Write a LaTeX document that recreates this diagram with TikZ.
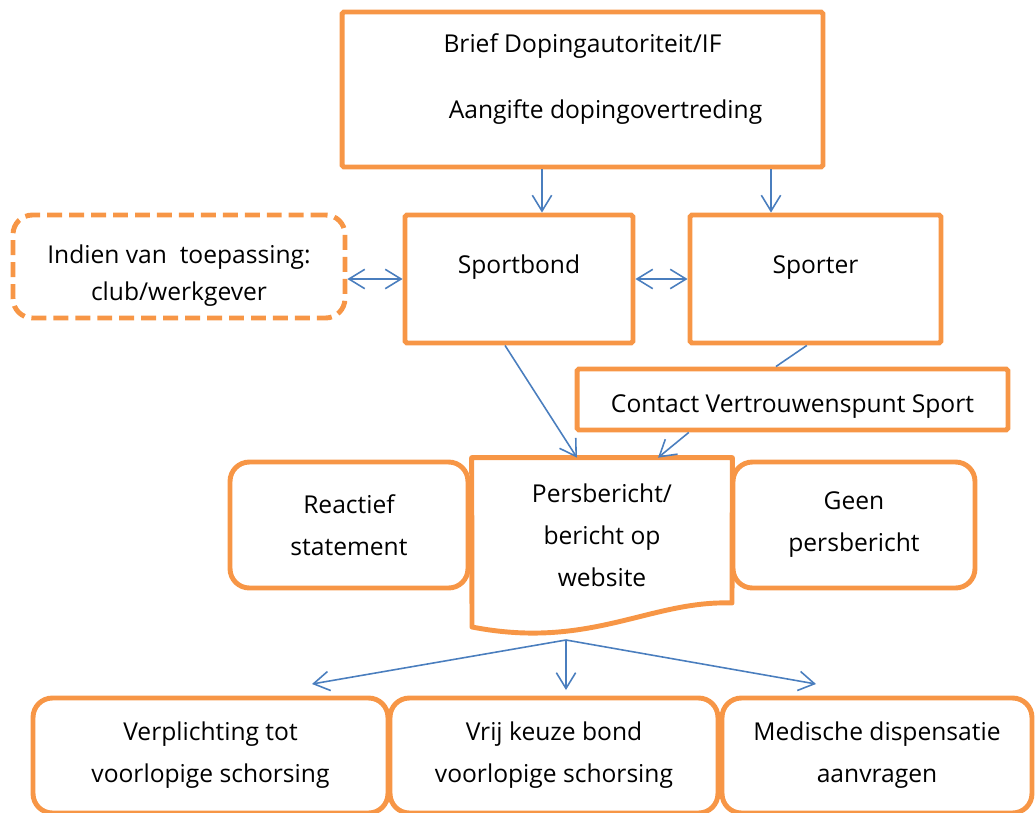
\documentclass[tikz,border=0pt]{standalone}
\usepackage{fontspec}
\setmainfont{Open Sans}
\usepackage{xcolor}
\usepackage{tikz}
\usetikzlibrary{arrows.meta,calc}
\definecolor{figbox}{RGB}{247,150,70}
\definecolor{figlink}{RGB}{74,126,190}
\tikzset{
  txt/.style  ={font=\fontsize{14}{23.9}\selectfont, inner sep=0pt, align=center},
  box/.style  ={txt, draw=figbox, line width=2.8pt, rounded corners=1pt},
  rbox/.style ={box, rounded corners=11pt},
  dbox/.style ={rbox, dash pattern=on 8.5pt off 4pt},
  doc/.style  ={draw=figbox, line width=2.8pt, line join=round},
  lnk/.style  ={draw=figlink, line width=0.9pt, -{Straight Barb[length=9pt,width=11pt]}},
  dlnk/.style ={lnk, {Straight Barb[length=9pt,width=11pt]}-{Straight Barb[length=9pt,width=11pt]}},
  pln/.style  ={draw=figlink, line width=0.9pt},
}
\begin{document}
\begin{tikzpicture}[x=0.02cm,y=-0.02cm]
  \useasboundingbox (0,0) rectangle (1035,812);
  \clip (0,0) rectangle (1035,812);
  % top row
  \node[box, minimum width=9.62cm, minimum height=3.1cm] (brief) at (582.5,89.5) {};
  \node[txt, anchor=base] (brieftop) at (582.5,52) {Brief Dopingautoriteit/IF};
  \node[txt, anchor=base] (briefbot) at (605.5,118) {Aangifte dopingovertreding};
  % second row
  \node[dbox, minimum width=6.64cm, minimum height=2.06cm] (club) at (179,266.5) {};
  \node[txt] (clubtxt) at (179,276) {Indien van\ \ toepassing:\\[-2.8pt]club/werkgever};
  \node[box, minimum width=4.56cm, minimum height=2.56cm] (bond) at (519,279) {};
  \node[txt, anchor=base] (bondtxt) at (519,273) {Sportbond};
  \node[box, minimum width=5.02cm, minimum height=2.56cm] (sporter) at (815.5,279) {};
  \node[txt, anchor=base] (sportertxt) at (815.5,273) {Sporter};
  \node[box, minimum width=8.62cm, minimum height=1.22cm] (contact) at (792.5,399.5) {};
  \node[txt, anchor=base] (contacttxt) at (792.5,412) {Contact Vertrouwenspunt Sport};
  % press row
  \node[txt, minimum width=5.2cm, minimum height=3.08cm] (pers) at (602,535) {Persbericht/\\bericht op\\website};
  \draw[doc] (pers.north west) -- (pers.north east) -- (732,603)
    .. controls (650,600) and (590,650) .. (472,627) -- cycle;
  \node[rbox, minimum width=4.76cm, minimum height=2.52cm] (reactief) at (349,525) {Reactief\\statement};
  \node[rbox, minimum width=4.84cm, minimum height=2.52cm] (geen) at (854,525) {Geen\\persbericht};
  % bottom row
  \node[rbox, minimum width=7.1cm, minimum height=2.3cm] (plicht) at (210.5,755.5) {Verplichting tot\\voorlopige schorsing};
  \node[rbox, minimum width=6.56cm, minimum height=2.3cm] (vrij) at (554,755.5) {Vrij keuze bond\\voorlopige schorsing};
  \node[rbox, minimum width=6.2cm, minimum height=2.3cm] (medisch) at (877,755.5) {Medische dispensatie\\aanvragen};
  % connectors
  \draw[lnk] (542,0 |- brief.south) -- (542,0 |- bond.north);
  \draw[lnk] (771,0 |- brief.south) -- (771,0 |- sporter.north);
  \draw[dlnk] (club.east |- bond.west) -- (bond.west);
  \draw[dlnk] (bond.east) -- (sporter.west);
  \draw[pln] ($(sporter.south west)!0.466!(sporter.south east)$) -- ($(contact.north west)!0.462!(contact.north east)$);
  \draw[lnk] ($(bond.south west)!0.44!(bond.south east)$) -- ($(pers.north west)!0.404!(pers.north east)$);
  \draw[lnk] ($(contact.south west)!0.262!(contact.south east)$) -- ($(pers.north west)!0.715!(pers.north east)$);
  \coordinate (persb) at (566,640);
  \coordinate (tipl) at (312,684);
  \coordinate (tipm) at (566,690);
  \coordinate (tipr) at (816,684);
  \draw[lnk] (persb) -- (tipl);
  \draw[lnk] (persb) -- (tipm);
  \draw[lnk] (persb) -- (tipr);
\end{tikzpicture}
\end{document}
